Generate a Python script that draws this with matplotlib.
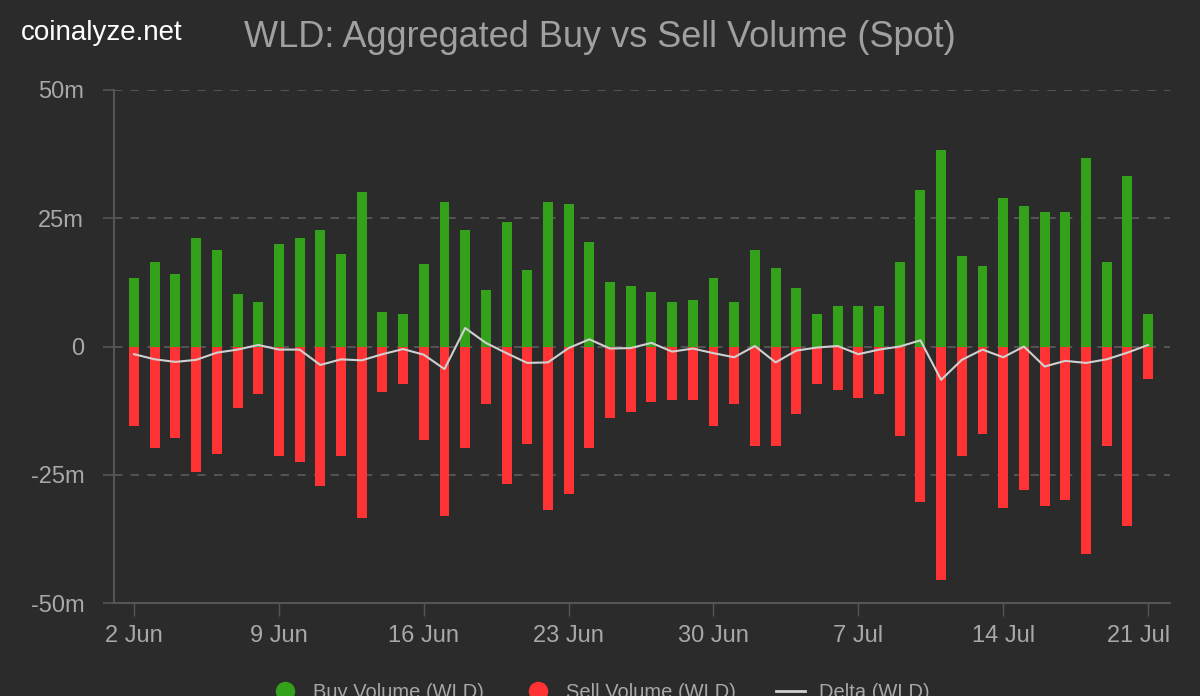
import matplotlib
matplotlib.use("Agg")
import matplotlib.pyplot as plt
import matplotlib.dates as mdates
import matplotlib.transforms as mtransforms
from matplotlib.lines import Line2D
import numpy as np
import pandas as pd

plt.rcParams['font.family'] = ['Liberation Sans', 'DejaVu Sans']

dates = pd.date_range("2024-06-02", "2024-07-21", freq="D")

buy_volume = [13.4, 16.5, 14.2, 21.2, 18.9, 10.3, 8.7, 20.0, 21.2, 22.7,
              18.1, 30.2, 6.8, 6.4, 16.1, 28.2, 22.7, 11.0, 24.3, 15.0,
              28.2, 27.8, 20.4, 12.6, 11.8, 10.7, 8.7, 9.1, 13.4, 8.7,
              18.9, 15.3, 11.4, 6.4, 7.9, 7.9, 7.9, 16.5, 30.5, 38.3,
              17.7, 15.7, 29.0, 27.4, 26.3, 26.3, 36.8, 16.5, 33.3, 6.4]

sell_volume = [-15.5, -19.7, -17.8, -24.4, -20.9, -11.9, -9.2, -21.3, -22.5, -27.2,
               -21.3, -33.4, -8.8, -7.3, -18.2, -33.0, -19.7, -11.2, -26.8, -19.0,
               -31.8, -28.7, -19.7, -13.9, -12.7, -10.8, -10.4, -10.4, -15.5, -11.2,
               -19.3, -19.3, -13.1, -7.3, -8.4, -10.0, -9.2, -17.4, -30.3, -45.5,
               -21.3, -17.0, -31.4, -27.9, -31.0, -29.9, -40.4, -19.3, -34.9, -6.4]

delta = [-1.5, -2.5, -3.0, -2.6, -1.2, -0.6, 0.3, -0.6, -0.6, -3.6,
         -2.5, -2.7, -1.5, -0.5, -1.6, -4.4, 3.6, 0.7, -1.3, -3.2,
         -3.1, -0.3, 1.4, -0.4, -0.3, 0.7, -1.0, -0.4, -1.3, -2.1,
         0.1, -3.1, -0.8, -0.2, 0.1, -1.5, -0.6, 0.0, 1.2, -6.5,
         -2.6, -0.6, -2.1, 0.0, -3.9, -2.8, -3.2, -2.5, -1.2, 0.3]

y_ticks = [-50, -25, 0, 25, 50]
y_tick_labels = ["-50m", "-25m", "0", "25m", "50m"]

BG = "#2b2b2b"
GREEN = "#33a11a"
RED = "#ff3333"
TEXT = "#a8a8a8"
GRID = "#5c5c5c"

fig = plt.figure(figsize=(12, 6.96), dpi=100, facecolor=BG)
ax = fig.add_axes([0.095, 0.1336, 0.88, 0.7371], facecolor=BG)

ax.bar(dates, buy_volume, width=0.48, color=GREEN, zorder=3)
ax.bar(dates, sell_volume, width=0.48, color=RED, zorder=3)
ax.plot(dates, delta, color="#d0d0d0", lw=1.5, zorder=4)

ax.set_ylim(-50, 50)
ax.set_xlim(dates[0] - pd.Timedelta(days=0.97), dates[-1] + pd.Timedelta(days=1.06))
ax.set_yticks(y_ticks)
ax.set_yticklabels(y_tick_labels)
ax.set_xticks(dates[::7])
ax.xaxis.set_major_formatter(mdates.DateFormatter("%-d %b"))

for v in [-25, 0, 25, 50]:
    ax.axhline(v, color=GRID, lw=1.2, ls=(0, (5, 5)), zorder=1)

for s in ["top", "right"]:
    ax.spines[s].set_visible(False)
for s in ["left", "bottom"]:
    ax.spines[s].set_color("#555555")
    ax.spines[s].set_linewidth(1.5)

ax.tick_params(axis="y", colors="#555555", labelcolor=TEXT, labelsize=17,
               length=8, width=1.2, pad=13.5)
ax.tick_params(axis="x", colors="#555555", labelcolor=TEXT, labelsize=17,
               length=9, width=1.0, pad=7)

# keep the last date label inside the plot edge, as in the reference
last_lbl = ax.get_xticklabels()[-1]
last_lbl.set_transform(last_lbl.get_transform() +
                       mtransforms.ScaledTranslation(-10 / 100, 0, fig.dpi_scale_trans))

fig.text(0.5, 0.946, "WLD: Aggregated Buy vs Sell Volume (Spot)", ha="center", va="center",
         fontsize=26, color="#a0a0a0")
fig.text(0.017, 0.953, "coinalyze.net", ha="left", va="center", fontsize=20, color="white")

handles = [
    Line2D([], [], marker="o", ls="none", markersize=13, markerfacecolor=GREEN, markeredgecolor=GREEN),
    Line2D([], [], marker="o", ls="none", markersize=13, markerfacecolor=RED, markeredgecolor=RED),
    Line2D([], [], color="#d0d0d0", lw=2),
]
leg = fig.legend(handles, ["Buy Volume (WLD)", "Sell Volume (WLD)", "Delta (WLD)"],
                 loc="center", bbox_to_anchor=(0.5, 0.005), ncol=3, frameon=False,
                 fontsize=14.5, labelcolor=TEXT, columnspacing=2.0, handlelength=1.4,
                 handletextpad=0.7)

fig.savefig("out.png", dpi=100, facecolor=BG)
